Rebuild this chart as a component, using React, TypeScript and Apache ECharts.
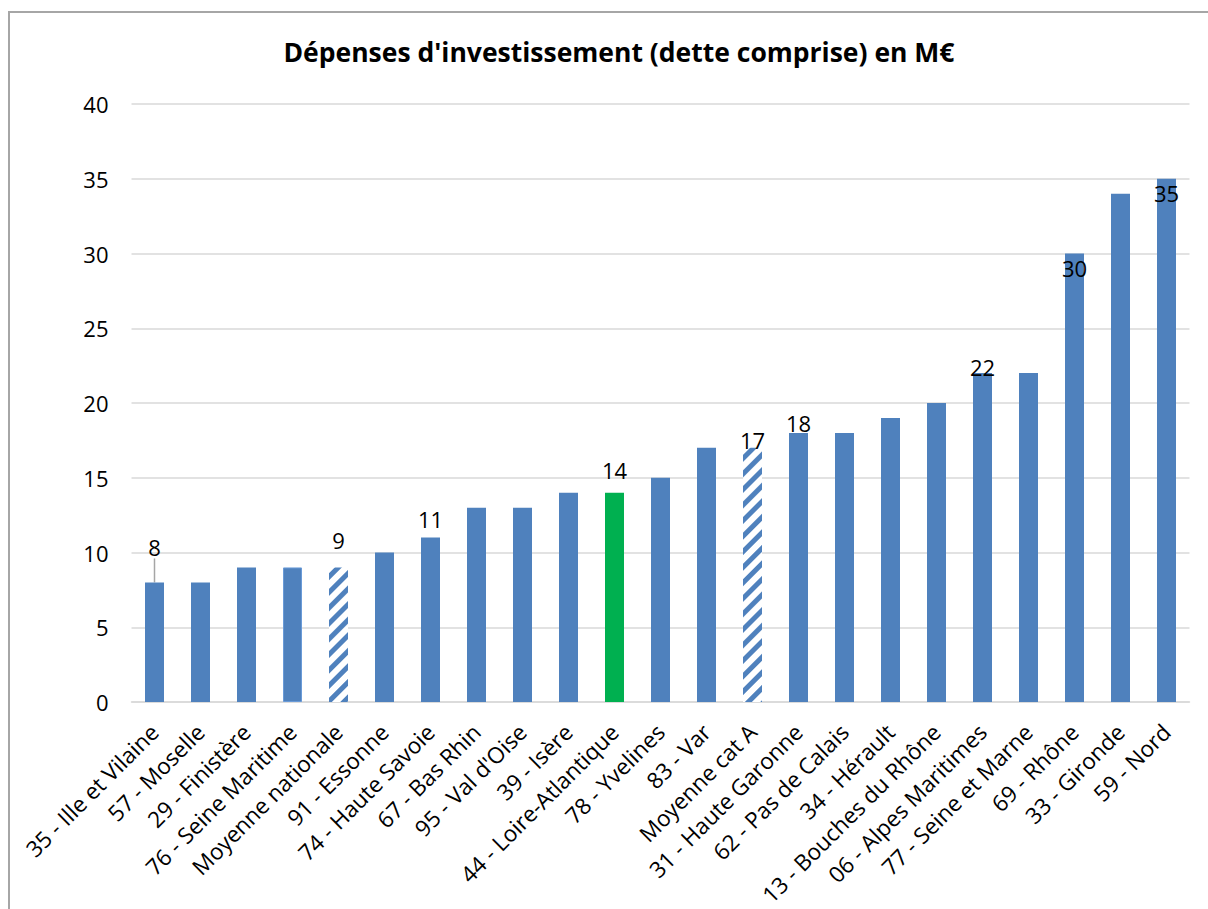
import React, { useEffect, useRef } from "react";
import * as echarts from "echarts";

const TITLE = "Dépenses d'investissement (dette comprise) en M€";

const categories = [
  "35 - Ille et Vilaine",
  "57 - Moselle",
  "29 - Finistère",
  "76 - Seine Maritime",
  "Moyenne nationale",
  "91 - Essonne",
  "74 - Haute Savoie",
  "67 - Bas Rhin",
  "95 - Val d'Oise",
  "39 - Isère",
  "44 - Loire-Atlantique",
  "78 - Yvelines",
  "83 - Var",
  "Moyenne cat A",
  "31 - Haute Garonne",
  "62 - Pas de Calais",
  "34 - Hérault",
  "13 - Bouches du Rhône",
  "06 - Alpes Maritimes",
  "77 - Seine et Marne",
  "69 - Rhône",
  "33 - Gironde",
  "59 - Nord",
];

const values = [8, 8, 9, 9, 9, 10, 11, 13, 13, 14, 14, 15, 17, 17, 18, 18, 19, 20, 22, 22, 30, 34, 35];

const averageNames = ["Moyenne nationale", "Moyenne cat A"];
const highlightName = "44 - Loire-Atlantique";

// labelled bars: [category, position, distance]
const labelled: [string, string, number][] = [
  ["35 - Ille et Vilaine", "top", 4],
  ["Moyenne nationale", "top", 16],
  ["74 - Haute Savoie", "top", 8],
  ["44 - Loire-Atlantique", "top", 12],
  ["Moyenne cat A", "top", -3],
  ["31 - Haute Garonne", "top", -1],
  ["06 - Alpes Maritimes", "top", -5],
  ["69 - Rhône", "insideTop", 3],
  ["59 - Nord", "insideTop", 3],
];

const yTicks = { min: 0, max: 40, interval: 5 };

const BLUE = "#4F81BD";
const GREEN = "#00B050";
const FONT = "Open Sans";

export default function App() {
  const ref = useRef<HTMLDivElement>(null);

  useEffect(() => {
    document.body.style.margin = "0";
    document.body.style.overflow = "hidden";
    if (!ref.current) return;
    const chart = echarts.init(ref.current, undefined, { renderer: "svg" });

    const data = categories.map((name, i) => {
      const item: any = { value: values[i] };
      if (averageNames.includes(name)) {
        item.itemStyle = {
          color: "#FFFFFF",
          decal: {
            color: BLUE,
            backgroundColor: "#FFFFFF",
            symbol: "rect",
            symbolSize: 1,
            dashArrayX: [1, 0],
            dashArrayY: [5, 6],
            rotation: -Math.PI / 4,
          },
        };
      } else if (name === highlightName) {
        item.itemStyle = { color: GREEN };
      } else if (name === "76 - Seine Maritime") {
        item.itemStyle = { color: BLUE, borderColor: "#6A9BD8", borderWidth: 1 };
      }
      const lab = labelled.find((l) => l[0] === name);
      if (lab) {
        item.label = {
          show: true,
          position: lab[1],
          distance: lab[2],
        };
        if (i === 0) {
          item.labelLine = { show: true, lineStyle: { color: "#A6A6A6", width: 1.5 } };
        }
      }
      return item;
    });

    chart.setOption({
      animation: false,
      backgroundColor: "#FFFFFF",
      title: {
        text: TITLE,
        left: 614,
        textAlign: "center",
        top: 33,
        textStyle: {
          fontFamily: FONT,
          fontWeight: "bold",
          fontSize: 26.5,
          color: "#000000",
        },
      },
      graphic: [
        {
          type: "rect",
          shape: { x: 9, y: 12, width: 1400, height: 1200 },
          style: { fill: "none", stroke: "#A6A6A6", lineWidth: 2 },
          silent: true,
        },
      ],
      grid: { left: 131.5, right: 18.5, top: 104, bottom: 207, containLabel: false },
      xAxis: {
        type: "category",
        data: categories,
        axisTick: { show: false },
        axisLine: { lineStyle: { color: "#D9D9D9", width: 1.5 } },
        axisLabel: {
          rotate: 45,
          interval: 0,
          margin: 26,
          fontFamily: FONT,
          fontSize: 22.5,
          color: "#000000",
        },
      },
      yAxis: {
        type: "value",
        min: yTicks.min,
        max: yTicks.max,
        interval: yTicks.interval,
        axisLine: { show: false },
        axisTick: { show: false },
        axisLabel: {
          margin: 23,
          fontFamily: FONT,
          fontSize: 22,
          color: "#000000",
        },
        splitLine: { lineStyle: { color: "#D9D9D9", width: 1.5 } },
      },
      series: [
        {
          type: "bar",
          data,
          barWidth: 19,
          itemStyle: { color: BLUE },
          label: {
            show: false,
            fontFamily: FONT,
            fontSize: 22,
            color: "#000000",
          },
          labelLayout: (params: any) => (params.dataIndex === 0 ? { dy: -20 } : {}),
          labelLine: { show: false },
        },
      ],
    });

    return () => chart.dispose();
  }, []);

  return <div ref={ref} style={{ width: 1208, height: 909 }} />;
}
